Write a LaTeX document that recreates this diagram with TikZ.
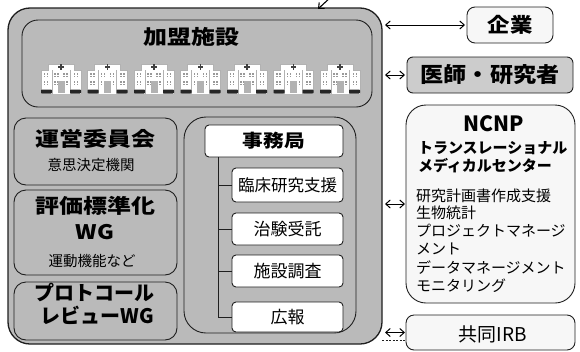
\documentclass[tikz,border=0pt]{standalone}
\usepackage{fontspec}
\setmainfont{Noto Sans CJK JP}
\usetikzlibrary{arrows.meta}
\definecolor{panelgray}{gray}{0.73}
\definecolor{taggray}{gray}{0.80}
\definecolor{paper}{gray}{0.97}
\definecolor{edge}{gray}{0.12}
% heading font: size, horizontal stretch
\newcommand{\headtxt}[3]{\fontsize{#1pt}{#1pt}\selectfont\bfseries\scalebox{#2}[1]{#3}}
\newcommand{\plaintxt}[2]{\fontsize{#1pt}{#1pt}\selectfont #2}
\begin{document}
\begin{tikzpicture}[x=1pt,y=-1pt,
  roundbox/.style={draw=edge, line width=0.9pt, rounded corners=#1,
    anchor=north west, inner sep=0pt, outer sep=0pt},
  label/.style={inner sep=0pt, outer sep=0pt, text=black},
  barb/.style={Straight Barb[length=4.5pt,width=8pt,line width=1pt]},
  dbl/.style={{Straight Barb[length=4.5pt,width=8pt]}-{Straight Barb[length=4.5pt,width=8pt]}, line width=1pt},
  hospital/.pic={
    % building body and upper floor
    \fill[white] (-20,-24) rectangle (20,0);
    \fill[white] (-13,-30) rectangle (13,-24);
    \draw[gray!60, line width=0.3pt] (-20,0) -- (-20,-24) -- (-13,-24) -- (-13,-30)
      -- (13,-30) -- (13,-24) -- (20,-24) -- (20,0);
    \draw[gray!60, line width=0.3pt] (-9,0) -- (-9,-24) (9,0) -- (9,-24);
    % red-cross mark
    \fill[black!75] (-2.6,-27.8) rectangle (2.6,-26.2);
    \fill[black!75] (-0.8,-29.6) rectangle (0.8,-24.4);
    % windows
    \foreach \wx in {-15,-4.5,4.5,15}{
      \foreach \wy in {-19,-11}{
        \fill[gray!80] (\wx-2.2,\wy-1.6) rectangle ++(1.4,1.2);
        \fill[gray!80] (\wx+0.8,\wy-1.6) rectangle ++(1.4,1.2);
        \fill[gray!80] (\wx-2.2,\wy+0.6) rectangle ++(1.4,1.2);
        \fill[gray!80] (\wx+0.8,\wy+0.6) rectangle ++(1.4,1.2);
      }
    }
    % entrance
    \fill[gray!60] (-3.5,-13) rectangle (3.5,-1);
    % parked cars
    \fill[black!85, rounded corners=0.8pt] (-20,-4.5) rectangle (-9,-0.5);
    \fill[black!85, rounded corners=0.8pt] (9,-4.5) rectangle (20,-0.5);
  }]
\useasboundingbox (0,0) rectangle (580,351);

% ---------- main consortium frame ----------
\node[roundbox=22, line width=1.3pt, fill=panelgray, minimum width=374pt, minimum height=336pt] (outer) at (8,8) {};

% member facilities
\node[roundbox=16, fill=panelgray, minimum width=350pt, minimum height=87pt] (kamei) at (22,20) {};
\node[label] (kameitxt) at (191,37) {\headtxt{20}{1.2}{加盟施設}};
\foreach \i in {0,...,6}{
  \pic (h\i) at (61+46.5*\i,94) {hospital};
}

% left column
\node[roundbox=12, fill=panelgray, minimum width=163pt, minimum height=67pt] (unei) at (14,118) {};
\node[label] (uneitxt) at (95,139) {\headtxt{20}{1.2}{運営委員会}};
\node[label] (uneisub) at (91,165) {\plaintxt{14.5}{意思決定機関}};

\node[roundbox=12, fill=panelgray, minimum width=163pt, minimum height=85pt] (hyoka) at (14,190) {};
\node[label] (hyokatxt) at (95,206) {\headtxt{20}{1.2}{評価標準化}};
\node[label] (hyokawg) at (95,232) {\headtxt{20}{1.15}{WG}};
\node[label] (hyokasub) at (92,261) {\plaintxt{14.5}{運動機能など}};

\node[roundbox=12, fill=panelgray, minimum width=163pt, minimum height=58pt] (proto) at (14,282) {};
\node[label] (prototxt) at (94,293) {\headtxt{20}{1.0}{プロトコール}};
\node[label] (protowg) at (97,315) {\headtxt{20}{1.0}{レビューWG}};

% secretariat
\node[roundbox=22, fill=panelgray, minimum width=172pt, minimum height=216pt] (jimu) at (184,117) {};
\node[roundbox=4, fill=white, minimum width=138pt, minimum height=32pt] (hdr) at (205,125) {};
\node[label] (hdrtxt) at (hdr.center) {\headtxt{18}{1.15}{事務局}};

\node[roundbox=4, fill=white, minimum width=111pt, minimum height=34pt] (s1) at (232,168) {};
\node[roundbox=4, fill=white, minimum width=111pt, minimum height=32pt] (s2) at (232,213) {};
\node[roundbox=4, fill=white, minimum width=111pt, minimum height=32pt] (s3) at (232,255) {};
\node[roundbox=4, fill=white, minimum width=111pt, minimum height=30pt] (s4) at (232,302) {};
\node[label] (s1txt) at (s1.center) {\plaintxt{16.5}{臨床研究支援}};
\node[label] (s2txt) at (s2.center) {\plaintxt{17}{治験受託}};
\node[label] (s3txt) at (s3.center) {\plaintxt{17}{施設調査}};
\node[label] (s4txt) at (s4.center) {\plaintxt{17}{広報}};

\coordinate (trunk) at ([xshift=13pt]hdr.south west);
\draw[edge, line width=0.9pt] (trunk) -- (trunk |- s4.west);
\foreach \s in {s1,s2,s3,s4}{
  \draw[edge, line width=0.9pt] (trunk |- \s.west) -- (\s.west);
}

% ---------- partners on the right ----------
\node[roundbox=8, fill=paper, minimum width=86pt, minimum height=36pt] (kigyo) at (467,7) {};
\node[label] (kigyotxt) at (kigyo.center) {\headtxt{20}{1.12}{企業}};

\node[roundbox=6, fill=taggray, minimum width=166pt, minimum height=36pt] (ishi) at (407,57) {};
\node[label] (ishitxt) at (ishi.center) {\headtxt{21}{1.1}{医師・研究者}};

\node[roundbox=20, fill=paper, minimum width=169pt, minimum height=198pt] (ncnp) at (406,105) {};
\node[label] (ncnptxt) at (494,124) {\fontsize{21pt}{21pt}\selectfont\bfseries NCNP};
\node[label, anchor=west] (ncnp1) at (418,148.5) {\headtxt{15}{1.0}{トランスレーショナル}};
\node[label, anchor=west] (ncnp2) at (418,166) {\headtxt{15}{1.0}{メディカルセンター}};
\node[label, anchor=west] (l1) at (416,196) {\plaintxt{15}{研究計画書作成支援}};
\node[label, anchor=west] (l2) at (416,212.5) {\plaintxt{15}{生物統計}};
\node[label, anchor=west] (l3) at (416,231) {\plaintxt{15}{プロジェクトマネージ}};
\node[label, anchor=west] (l4) at (416,249) {\plaintxt{15}{メント}};
\node[label, anchor=west] (l5) at (416,268) {\plaintxt{15}{データマネージメント}};
\node[label, anchor=west] (l6) at (416,286) {\plaintxt{15}{モニタリング}};

\node[roundbox=8, fill=paper, minimum width=169pt, minimum height=35pt] (irb) at (406,315) {};
\node[label] (irbtxt) at (493,334) {\plaintxt{19}{共同IRB}};

% ---------- connectors ----------
\draw[dbl] ([xshift=3pt]outer.east |- kigyo.west) -- ([xshift=-2pt]kigyo.west);
\draw[dbl] ([xshift=3pt]outer.east |- ishi.west) -- ([xshift=-2pt]ishi.west);
\draw[dbl] ([xshift=3pt]outer.east |- ncnp.west) -- ([xshift=-1pt]ncnp.west);
\draw[dbl] ([xshift=3pt]outer.east |- irb.west) -- ([xshift=-1pt]irb.west);
\draw[edge, line width=0.8pt, dash pattern=on 2pt off 1.5pt]
  ([yshift=-8pt]outer.east |- irb.west) -- ([yshift=-8pt]irb.west);

\coordinate (incoming) at (332,-4);
\draw[line width=1.1pt, -{Straight Barb[length=4.5pt,width=8pt]}] (incoming) -- ([xshift=123pt,yshift=-1pt]outer.north);
\end{tikzpicture}
\end{document}
